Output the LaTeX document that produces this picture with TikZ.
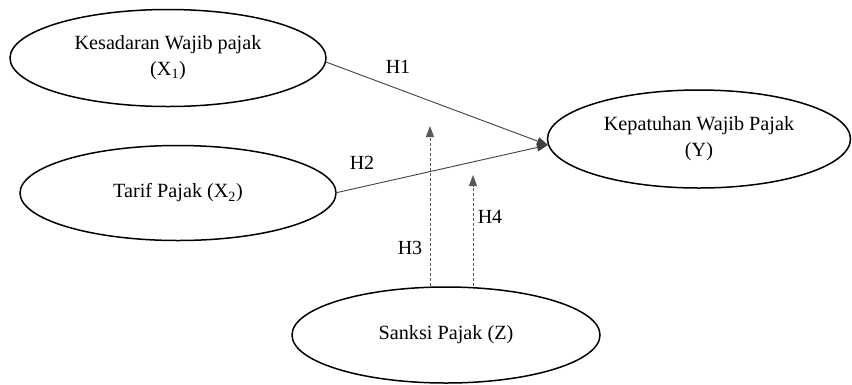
\documentclass[tikz,border=0pt]{standalone}
\usepackage{fontspec}
\setmainfont{Liberation Serif}
\usetikzlibrary{shapes.geometric,arrows.meta}
\begin{document}
\begin{tikzpicture}[x=1pt,y=-1pt,
  var/.style={draw=black,line width=1.5pt,ellipse,inner sep=0pt,align=center,
    font=\fontsize{20.2}{26}\selectfont},
  path/.style={draw=black!75,line width=0.9pt,-{Triangle[length=11pt,width=8pt]}},
  mod/.style={draw=black!65,line width=0.9pt,dash pattern=on 3pt off 2pt,-{Triangle[length=11pt,width=8pt]}},
  lbl/.style={font=\fontsize{20}{22}\selectfont,inner sep=0pt}]
\useasboundingbox (0,0) rectangle (852,384);
\node[var,minimum width=316pt,minimum height=97pt] (x1) at (168,58) {Kesadaran Wajib pajak\\(X\textsubscript{1})};
\node[var,minimum width=316pt,minimum height=95pt] (x2) at (178,193) {Tarif Pajak (X\textsubscript{2})};
\node[var,minimum width=303pt,minimum height=98pt] (y) at (699,139) {Kepatuhan Wajib Pajak\\(Y)};
\node[var,minimum width=308pt,minimum height=96pt] (z) at (446,335) {Sanksi Pajak (Z)};
\coordinate (tip) at (548,145);
\coordinate (h3top) at (430,126);
\coordinate (h4top) at (473,175);
\coordinate (x1out) at (326,62);
\coordinate (x2out) at (335,193);
\draw[path] (x1out) -- (tip);
\draw[path] (x2out) -- (tip);
\draw[mod] (z.north -| h3top) -- (h3top);
\draw[mod] (z.north -| h4top) -- (h4top);
\node[lbl] (h1) at (398,67) {H1};
\node[lbl] (h2) at (362,163) {H2};
\node[lbl] (h3) at (410,248) {H3};
\node[lbl] (h4) at (490,217) {H4};
\end{tikzpicture}
\end{document}
